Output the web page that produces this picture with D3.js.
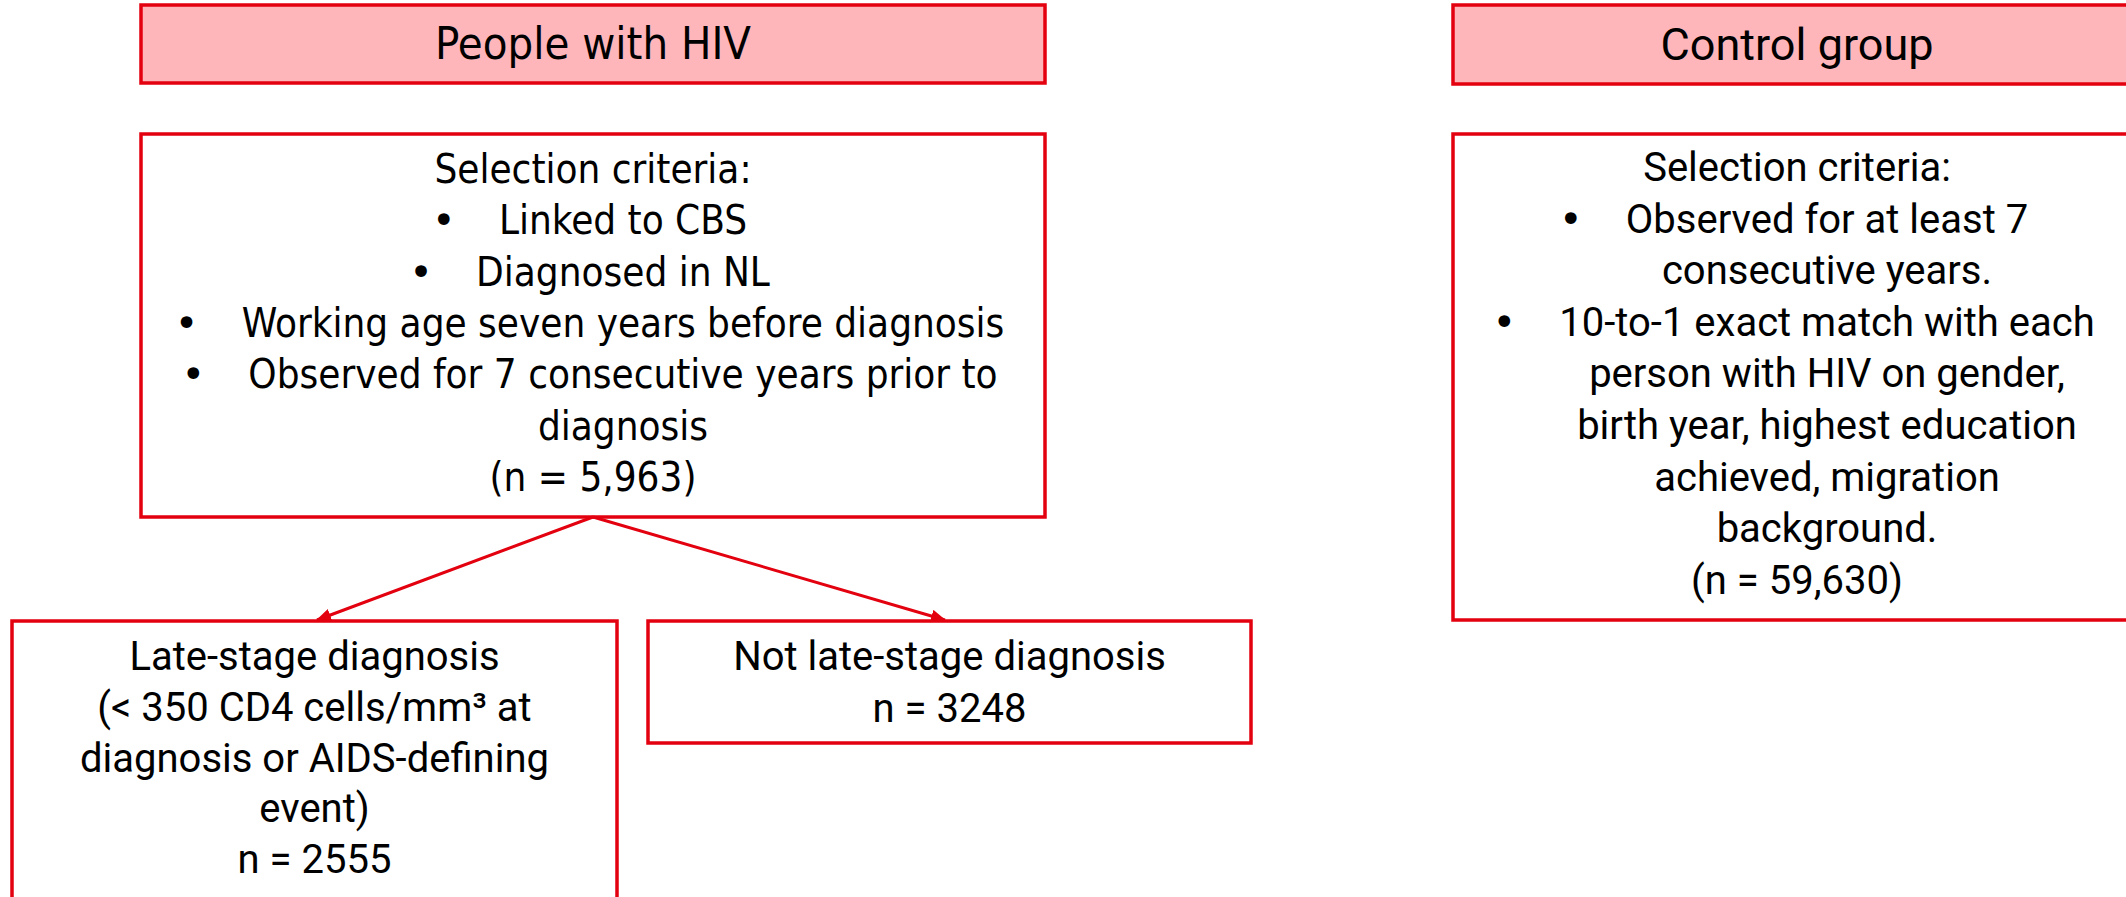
<!DOCTYPE html>
<html>
<head>
<meta charset="utf-8">
<title>HIV study flowchart</title>
<script src="https://cdn.jsdelivr.net/npm/d3@7"></script>
<style>
  body { margin: 0; background: #fff; }
</style>
</head>
<body>
<svg id="mainsvg" width="2126" height="897"></svg>
<script>
// ---- data ----
const hivTitle = "People with HIV";
const controlTitle = "Control group";

const hivN = 5963;
const controlN = 59630;
const lateN = 2555;
const notLateN = 3248;

// paragraphs: bullet or not, and the wrapped lines as in the picture
const hivCriteria = [
  { bullet: false, lines: ["Selection criteria:"] },
  { bullet: true,  lines: ["Linked to CBS"] },
  { bullet: true,  lines: ["Diagnosed in NL"] },
  { bullet: true,  lines: ["Working age seven years before diagnosis"] },
  { bullet: true,  lines: ["Observed for 7 consecutive years prior to", "diagnosis"] },
  { bullet: false, lines: ["(n = " + d3.format(",")(hivN) + ")"] }
];

const controlCriteria = [
  { bullet: false, lines: ["Selection criteria:"] },
  { bullet: true,  lines: ["Observed for at least 7", "consecutive years."] },
  { bullet: true,  lines: ["10-to-1 exact match with each", "person with HIV on gender,",
                           "birth year, highest education", "achieved, migration", "background."] },
  { bullet: false, lines: ["(n = " + d3.format(",")(controlN) + ")"] }
];

const lateLines = [
  { bullet: false, lines: ["Late-stage diagnosis", "(< 350 CD4 cells/mm³ at",
                           "diagnosis or AIDS-defining", "event)", "n = " + lateN] }
];

const notLateLines = [
  { bullet: false, lines: ["Not late-stage diagnosis", "n = " + notLateN] }
];

// ---- layout ----
const RED = "#e3000f";
const PINK = "#ffb6bb";
const narrowFont = "'DejaVu Sans Condensed', 'Liberation Sans Narrow', sans-serif";
const plainFont = "Roboto, 'Noto Sans', sans-serif";

const boxes = {
  hivHead:  { x: 141,  y: 5,   w: 904, h: 78 },
  ctrlHead: { x: 1453, y: 5,   w: 688, h: 79 },
  hivBox:   { x: 141,  y: 134, w: 904, h: 383 },
  ctrlBox:  { x: 1453, y: 134, w: 688, h: 486 },
  lateBox:  { x: 12,   y: 621, w: 605, h: 300 },
  notLate:  { x: 648,  y: 621, w: 603, h: 122 }
};

const svg = d3.select("#mainsvg");

svg.append("defs").append("marker")
    .attr("id", "arrow")
    .attr("viewBox", "0 0 15 13")
    .attr("refX", 14).attr("refY", 6.5)
    .attr("markerWidth", 15).attr("markerHeight", 13)
    .attr("markerUnits", "userSpaceOnUse")
    .attr("orient", "auto")
  .append("path")
    .attr("d", "M0,0 L15,6.5 L0,13 Z")
    .attr("fill", RED);

function drawBox(b, fill) {
  svg.append("rect")
    .attr("x", b.x).attr("y", b.y)
    .attr("width", b.w).attr("height", b.h)
    .attr("fill", fill)
    .attr("stroke", RED)
    .attr("stroke-width", 3.5);
}

function drawTitle(b, text, font, size, baseline) {
  svg.append("text")
    .attr("x", b.x + b.w / 2)
    .attr("y", b.y + baseline)
    .attr("text-anchor", "middle")
    .attr("font-family", font)
    .attr("font-size", size)
    .attr("fill", "#000")
    .text(text);
}

// centered paragraphs; bullet paragraphs are shifted right by the hanging indent
function drawParagraphs(b, paras, font, size, firstBase, lineH) {
  const cx = b.x + b.w / 2;
  const indent = 30, bulletGap = 55;
  const g = svg.append("g")
    .attr("font-family", font)
    .attr("font-size", size)
    .attr("fill", "#000");
  let row = 0;
  paras.forEach(p => {
    p.lines.forEach((line, i) => {
      const y = b.y + firstBase + row * lineH;
      const x = p.bullet ? cx + indent : cx;
      const t = g.append("text")
        .attr("x", x).attr("y", y)
        .attr("text-anchor", "middle")
        .text(line);
      if (p.bullet && i === 0) {
        const len = t.node().getComputedTextLength();
        g.append("text")
          .attr("x", x - len / 2 - bulletGap)
          .attr("y", y)
          .attr("text-anchor", "middle")
          .attr("font-family", "'DejaVu Sans', sans-serif")
          .attr("font-size", 40)
          .text("•");
      }
      row++;
    });
  });
}

// arrows first so the boxes sit on top of their ends
const hb = boxes.hivBox;
const from = [hb.x + 452, hb.y + hb.h];
[[boxes.lateBox.x + 305, boxes.lateBox.y], [boxes.notLate.x + 297, boxes.notLate.y]].forEach(to => {
  svg.append("line")
    .attr("x1", from[0]).attr("y1", from[1])
    .attr("x2", to[0]).attr("y2", to[1] - 1)
    .attr("stroke", RED)
    .attr("stroke-width", 3)
    .attr("marker-end", "url(#arrow)");
});

drawBox(boxes.hivHead, PINK);
drawBox(boxes.ctrlHead, PINK);
drawBox(boxes.hivBox, "none");
drawBox(boxes.ctrlBox, "none");
drawBox(boxes.lateBox, "none");
drawBox(boxes.notLate, "none");

drawTitle(boxes.hivHead, hivTitle, narrowFont, 45, 54);
drawTitle(boxes.ctrlHead, controlTitle, plainFont, 45, 55);

drawParagraphs(boxes.hivBox, hivCriteria, narrowFont, 40, 49, 51.3);
drawParagraphs(boxes.ctrlBox, controlCriteria, plainFont, 40, 47, 51.6);
drawParagraphs(boxes.lateBox, lateLines, plainFont, 40, 49, 50.8);
drawParagraphs(boxes.notLate, notLateLines, plainFont, 40, 49, 52);
</script>
</body>
</html>
